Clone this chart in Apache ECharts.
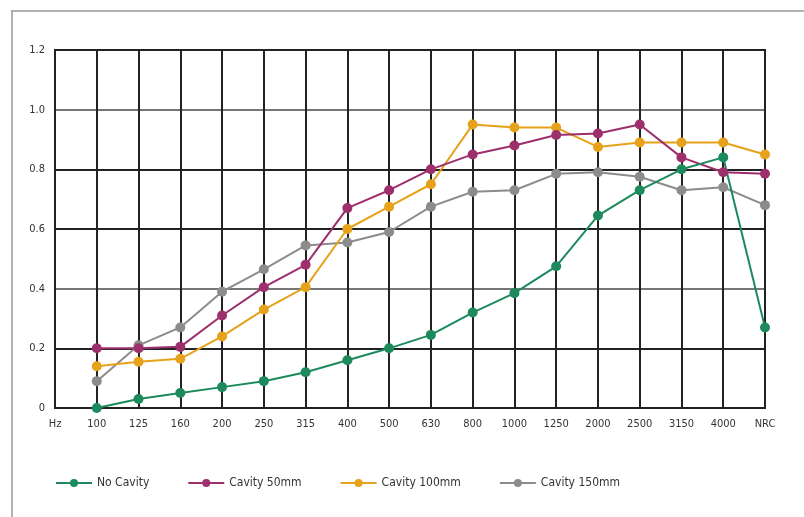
<!DOCTYPE html>
<html>
<head>
<meta charset="utf-8">
<script src="https://cdn.jsdelivr.net/npm/echarts@6/dist/echarts.min.js"></script>
<style>
  html, body { margin: 0; padding: 0; background: #fff; }
  #chart { width: 804px; height: 517px; }
</style>
</head>
<body>
<div id="chart"></div>
<script>
// frequency bands (Hz), last one is the NRC value
const categories = ["Hz", "100", "125", "160", "200", "250", "315", "400", "500", "630",
  "800", "1000", "1250", "2000", "2500", "3150", "4000", "NRC"]
const yTicks = [0, 0.2, 0.4, 0.6, 0.8, 1.0, 1.2]

const noCavity = [null, 0.0, 0.03, 0.05, 0.07, 0.09, 0.12, 0.16, 0.20, 0.245,
  0.32, 0.385, 0.475, 0.645, 0.73, 0.80, 0.84, 0.27]
const cavity50 = [null, 0.20, 0.20, 0.205, 0.31, 0.405, 0.48, 0.67, 0.73, 0.80,
  0.85, 0.88, 0.915, 0.92, 0.95, 0.84, 0.79, 0.785]
const cavity100 = [null, 0.14, 0.155, 0.165, 0.24, 0.33, 0.405, 0.60, 0.675, 0.75,
  0.95, 0.94, 0.94, 0.875, 0.89, 0.89, 0.89, 0.85]
const cavity150 = [null, 0.09, 0.21, 0.27, 0.39, 0.465, 0.545, 0.555, 0.59, 0.675,
  0.725, 0.73, 0.785, 0.79, 0.775, 0.73, 0.74, 0.68]

const font = "'DejaVu Sans Condensed', 'DejaVu Sans', sans-serif"

function line(name, data, color) {
  return {
    name: name,
    type: "line",
    data: data,
    symbol: "circle",
    symbolSize: 10,
    connectNulls: false,
    itemStyle: { color: color },
    lineStyle: { color: color, width: 2 }
  }
}

const chart = echarts.init(document.getElementById("chart"))
chart.setOption({
  animation: false,
  backgroundColor: "#fff",
  textStyle: { fontFamily: font },
  graphic: [
    { type: "line", shape: { x1: 11, y1: 11, x2: 804, y2: 11 }, style: { stroke: "#999", lineWidth: 1.5 } },
    { type: "line", shape: { x1: 12, y1: 11, x2: 12, y2: 517 }, style: { stroke: "#999", lineWidth: 1.5 } }
  ],
  grid: {
    left: 55,
    right: 39,
    top: 50,
    bottom: 109,
    show: true,
    borderColor: "#222",
    borderWidth: 2
  },
  legend: {
    left: 50,
    top: 472,
    itemGap: 38,
    itemWidth: 36,
    itemHeight: 10,
    textStyle: { color: "#333", fontSize: 12, fontFamily: font },
    data: ["No Cavity", "Cavity 50mm", "Cavity 100mm", "Cavity 150mm"]
  },
  xAxis: {
    type: "category",
    data: categories,
    boundaryGap: false,
    axisLine: { lineStyle: { color: "#222", width: 2 } },
    axisTick: { show: false },
    axisLabel: { color: "#333", fontSize: 11, margin: 11, fontFamily: font },
    splitLine: { show: true, lineStyle: { color: "#222", width: 2 } }
  },
  yAxis: {
    type: "value",
    min: yTicks[0],
    max: yTicks[yTicks.length - 1],
    interval: 0.2,
    axisLine: { show: true, lineStyle: { color: "#222", width: 2 } },
    axisTick: { show: false },
    axisLabel: {
      color: "#333",
      fontSize: 11,
      margin: 10,
      fontFamily: font,
      formatter: v => (v === 0 ? "0" : v.toFixed(1))
    },
    splitLine: {
      lineStyle: {
        color: ["#222", "#222", "#777", "#222", "#222", "#777", "#222"],
        width: 2
      }
    }
  },
  series: [
    line("Cavity 150mm", cavity150, "#8c8c8c"),
    line("Cavity 100mm", cavity100, "#e6a21a"),
    line("Cavity 50mm", cavity50, "#9c2f6c"),
    line("No Cavity", noCavity, "#1c8a5c")
  ]
})
</script>
</body>
</html>
